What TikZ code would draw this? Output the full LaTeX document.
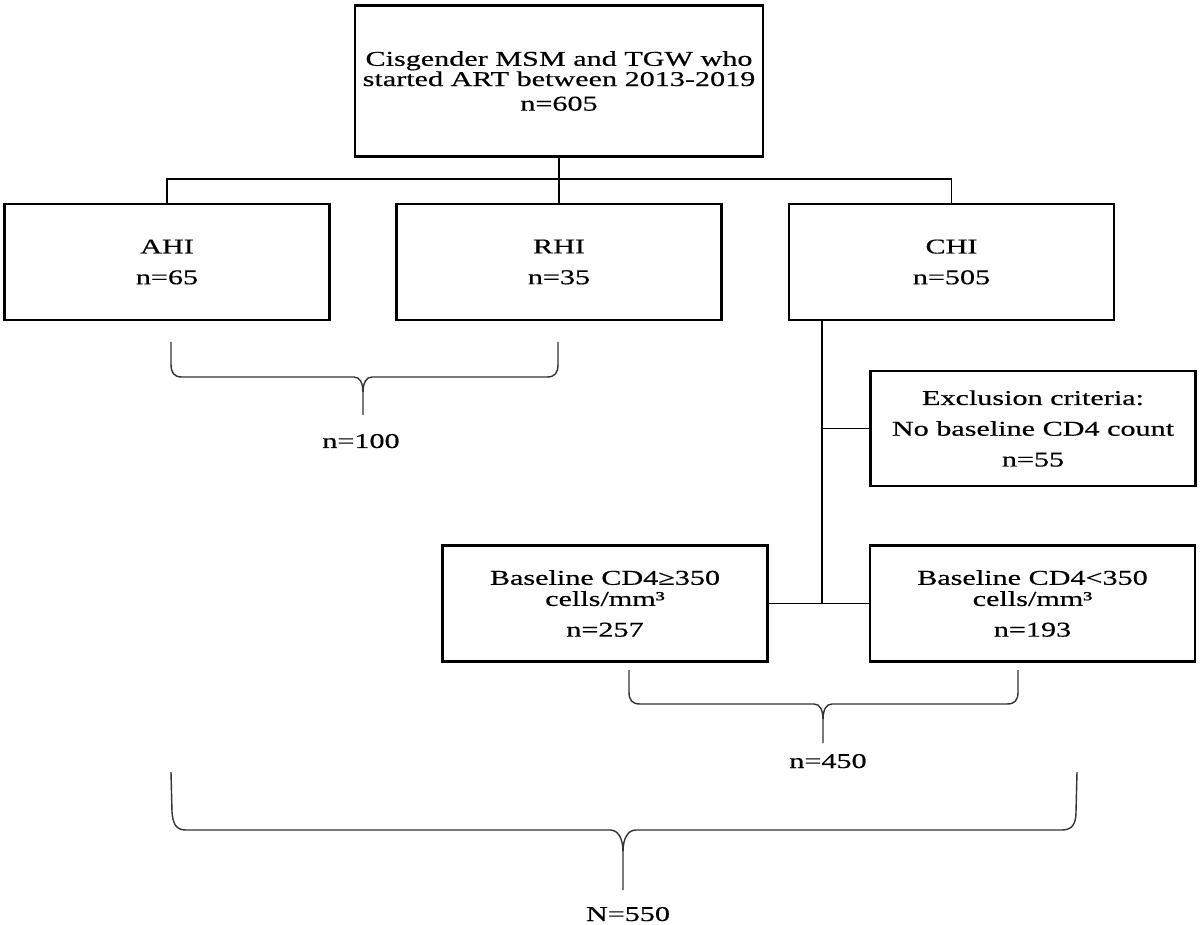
\documentclass[tikz,border=0pt]{standalone}
\usepackage{fontspec}
\setmainfont{Liberation Serif}[FakeStretch=1.43, FakeBold=0.5]

\begin{document}
\begin{tikzpicture}[x=0.02cm, y=-0.02cm,
    box/.style={draw, line width=1.3pt, align=center, minimum width=6.5cm, minimum height=2.32cm, inner sep=2pt, font=\fontsize{12}{17.5}\selectfont},
    line/.style={line width=1.1pt},
    brace/.style={line width=0.8pt, black!80},
    lab/.style={anchor=base, font=\fontsize{12}{17.5}\selectfont}
  ]
    \useasboundingbox (0,0) rectangle (1200,925);

    \node[box, minimum width=8.16cm, minimum height=3.02cm] (start) at (559,81) {Cisgender MSM and TGW who\\[-6pt]started ART between 2013-2019\\[-3.5pt]n=605};

    \node[box] (ahi) at (167,262)   {AHI\\n=65};
    \node[box] (rhi) at (559,262)   {RHI\\n=35};
    \node[box] (chi) at (951.5,262) {CHI\\n=505};

    \node[box, minimum height=2.30cm] (excl) at (1033,428.5) {Exclusion criteria:\\No baseline CD4 count\\n=55};

    \node[box] (cdhigh) at (605,603.5)    {Baseline CD4≥350\\[-5.5pt]cells/mm³\\n=257};
    \node[box] (cdlow)  at (1032.5,603.5) {Baseline CD4<350\\[-5.5pt]cells/mm³\\n=193};

    \node[lab] (n100) at (361,448) {n=100};
    \node[lab] (n450) at (828,768) {n=450};
    \node[lab] (n550) at (628,921) {N=550};

    \coordinate (busY)  at (0,179);
    \coordinate (trunk) at (822,0);

    \draw[line] (start.south) -- (start.south |- busY);
    \draw[line] (ahi.north) |- (busY -| chi.north) -- (chi.north);
    \draw[line] (rhi.north) -- (rhi.north |- busY);
    \draw[line] (chi.south -| trunk) -- (trunk |- cdhigh.east);
    \draw[line] (trunk |- excl.west) -- (excl.west);
    \draw[line] (cdhigh.east) -- (cdlow.west);

    % braces
    \draw[brace] (171,342) -- (171,364) .. controls (171,373) and (174,377) .. (182,377) -- (354,377) .. controls (360,377) and (363,383) .. (363,393) -- (363,415)
                 (363,393) .. controls (363,383) and (366,377) .. (372,377) -- (547,377) .. controls (555,377) and (558,373) .. (558,364) -- (558,342);
    \draw[brace] (629,670) -- (629,692) .. controls (629,700) and (632,704) .. (640,704) -- (814,704) .. controls (820,704) and (823,710) .. (823,720) -- (823,743)
                 (823,720) .. controls (823,710) and (826,704) .. (832,704) -- (1007,704) .. controls (1015,704) and (1018,700) .. (1018,692) -- (1018,670);
    \draw[brace] (171,772) -- (172,812) .. controls (173,824) and (176,830) .. (186,830) -- (610,830) .. controls (618,830) and (623,838) .. (623,852) -- (623,890)
                 (623,852) .. controls (623,838) and (628,830) .. (636,830) -- (1062,830) .. controls (1072,830) and (1076,824) .. (1076,812) -- (1077,772);
\end{tikzpicture}
\end{document}
